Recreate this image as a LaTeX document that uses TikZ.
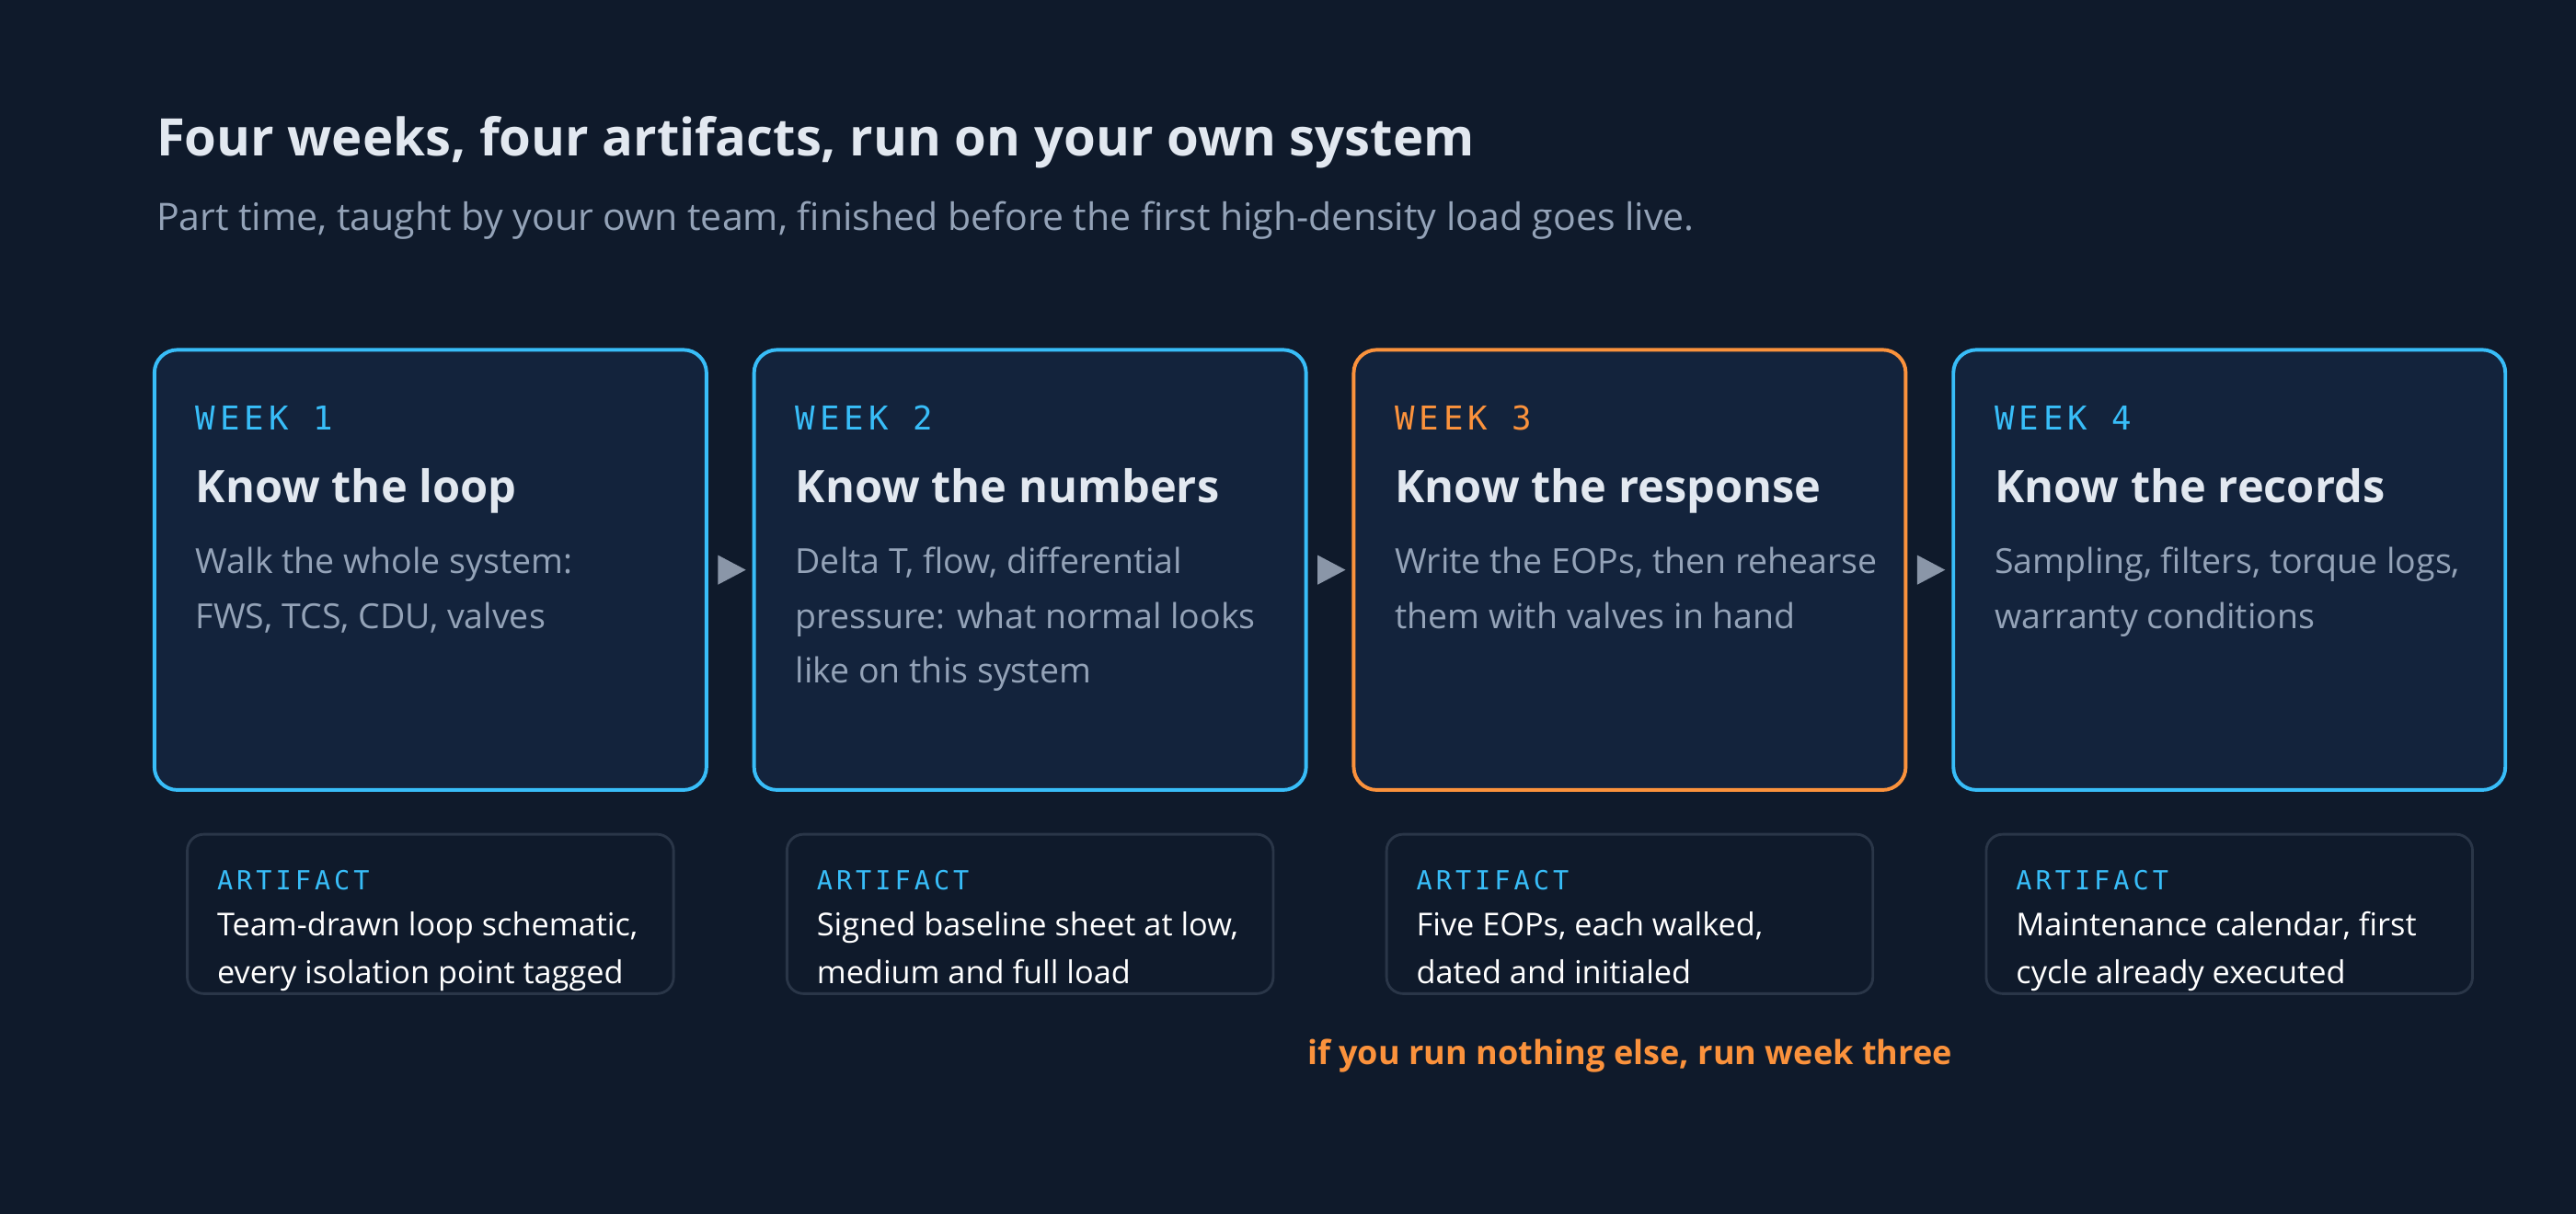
\documentclass[tikz,border=0pt]{standalone}
\usepackage{fontspec}
\setmainfont{Open Sans}
\newfontfamily\monof[LetterSpace=14]{DejaVu Sans Mono}
\definecolor{bg}{HTML}{0F1A2B}
\definecolor{card}{HTML}{13233C}
\definecolor{sky}{HTML}{38BDF8}
\definecolor{orng}{HTML}{FB923C}
\definecolor{txt}{HTML}{E2E8F0}
\definecolor{mut}{HTML}{94A3B8}
\definecolor{abox}{HTML}{2A3648}
\definecolor{abg}{HTML}{0F1A2B}
\definecolor{arr}{HTML}{8A96A8}
\tikzset{
 card/.style={draw=sky,line width=2.2pt,fill=card,rounded corners=14pt},
 art/.style={draw=abox,line width=1.6pt,fill=abg,rounded corners=10pt},
 wk/.style={anchor=base west,inner sep=0,text=sky,font=\monof\fontsize{20}{22}\selectfont},
 hd/.style={anchor=base west,inner sep=0,text=txt,font=\bfseries\fontsize{27.3}{30}\selectfont},
 bd/.style={anchor=base west,inner sep=0,text=mut,font=\fontsize{21}{33.5}\selectfont,align=left},
 al/.style={anchor=base west,inner sep=0,text=sky,font=\monof\fontsize{16}{18}\selectfont},
 atxt/.style={anchor=base west,inner sep=0,text=white,font=\fontsize{19.2}{29}\selectfont,align=left},
 tri/.style={fill=arr,draw=none},
}
\begin{document}
\begin{tikzpicture}[x=1pt,y=-1pt]
\fill[bg] (0,0) rectangle (1568,739);
\useasboundingbox (0,0) rectangle (1568,739);
\node[anchor=base west,inner sep=0,text=txt,font=\bfseries\fontsize{31.5}{36}\selectfont] (title) at (95,95) {Four weeks, four artifacts, run on your own system};
\node[anchor=base west,inner sep=0,text=mut,font=\fontsize{23}{28}\selectfont] (sub) at (95,140) {Part time, taught by your own team, finished before the first high-density load goes live.};
\foreach \i/\x/\c in {1/94/sky,2/459/sky,3/824/orng,4/1189/sky}{
  \draw[card,draw=\c] (\x,213) rectangle ++(336,268);
  \draw[art] (\x+20,508) rectangle ++(296,97);
}
\node[wk] (w1) at (119,262) {WEEK 1};
\node[wk] (w2) at (484,262) {WEEK 2};
\node[wk,text=orng] (w3) at (849,262) {WEEK 3};
\node[wk] (w4) at (1214,262) {WEEK 4};
\node[hd] (h1) at (119,306) {Know the loop};
\node[hd] (h2) at (484,306) {Know the numbers};
\node[hd] (h3) at (849,306) {Know the response};
\node[hd] (h4) at (1214,306) {Know the records};
\node[bd] (b1) at (119,382.5) {Walk the whole system:\\FWS, TCS, CDU, valves};
\node[bd] (b2) at (484,416) {Delta T, flow, differential\\pressure: what normal looks\\like on this system};
\node[bd] (b3) at (849,382.5) {Write the EOPs, then rehearse\\them with valves in hand};
\node[bd] (b4) at (1214,382.5) {Sampling, filters, torque logs,\\warranty conditions};
\foreach \x in {445,810,1175}{
  \fill[tri] (\x-8,338) -- (\x+9,347) -- (\x-8,356) -- cycle;
}
\node[al] (a1) at (132,542) {ARTIFACT};
\node[al] (a2) at (497,542) {ARTIFACT};
\node[al] (a3) at (862,542) {ARTIFACT};
\node[al] (a4) at (1227,542) {ARTIFACT};
\node[atxt] (t1) at (132,599) {Team-drawn loop schematic,\\every isolation point tagged};
\node[atxt] (t2) at (497,599) {Signed baseline sheet at low,\\medium and full load};
\node[atxt] (t3) at (862,599) {Five EOPs, each walked,\\dated and initialed};
\node[atxt] (t4) at (1227,599) {Maintenance calendar, first\\cycle already executed};
\node[anchor=base,inner sep=0,text=orng,font=\bfseries\fontsize{20.2}{24}\selectfont] (note) at (992,648) {if you run nothing else, run week three};
\end{tikzpicture}
\end{document}
